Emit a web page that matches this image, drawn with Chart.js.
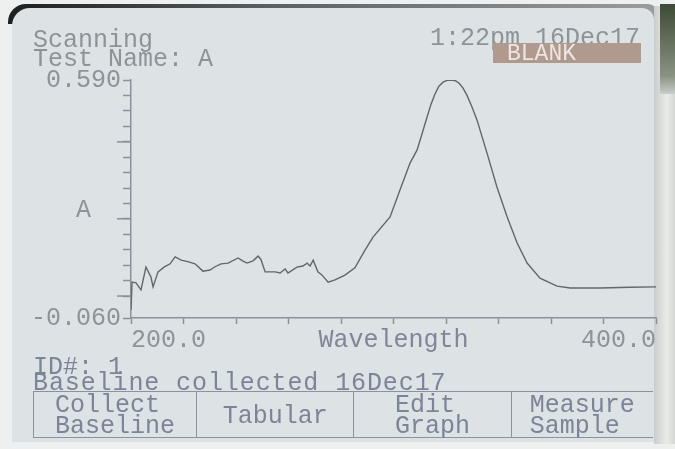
<!DOCTYPE html>
<html>
<head>
<meta charset="utf-8">
<script src="https://cdn.jsdelivr.net/npm/chart.js@4.4.0/dist/chart.umd.min.js"></script>
<style>
  body { margin: 0; width: 675px; height: 449px; overflow: hidden; position: relative; background: #eef0ef; font-family: "Liberation Mono", monospace; }
  #frame { position: absolute; left: 8px; top: 4px; width: 650px; height: 20px; background: linear-gradient(to right, #1e1f1f, #5d6060 40%, #9a9d9c); border-radius: 18px 10px 0 0; }
  #screen { position: absolute; left: 12px; top: 8px; width: 642px; height: 434px; background: #dde2e4; border-radius: 18px 12px 0 0; }
  #bezel { position: absolute; left: 654px; top: 6px; width: 21px; height: 438px; background: linear-gradient(to right, #c9cdcb, #e9ebe9 60%, #d3d6d3); }
  #bezelTop { position: absolute; left: 660px; top: 4px; width: 15px; height: 90px; background: linear-gradient(#3d4a35, #8a9382 80%, #c9cdcb); }
  canvas { position: absolute; left: 0; top: 0; }
  .lcd { position: absolute; font-size: 25px; line-height: 25px; white-space: pre; color: #8e9398; }
  .low { color: #7c8497; }
  #blank { position: absolute; left: 493px; top: 43px; width: 148px; height: 20px; background: #b09a8e; }
  #blank span { position: absolute; left: 14px; top: 0px; font-size: 23px; line-height: 22px; color: #ece5e0; }
  #buttons { position: absolute; left: 33px; top: 391px; width: 619px; height: 45px; border: 1.5px solid #8a92a0; border-right: none; display: flex; }
  #buttons div { display: flex; flex-direction: column; justify-content: center; align-items: center; border-left: 1.5px solid #8a92a0; font-size: 25px; line-height: 21px; padding-top: 3px; color: #7c8497; white-space: pre; }
  #buttons div:first-child { border-left: none; }
</style>
</head>
<body>
<div id="frame"></div>
<div id="screen"></div>
<div id="bezel"></div>
<div id="bezelTop"></div>
<canvas id="Chart" width="675" height="449"></canvas>
<div class="lcd" style="left:33px; top:28px;">Scanning</div>
<div class="lcd" style="left:33px; top:47px;">Test Name: A</div>
<div class="lcd" style="left:430px; top:26px;">1:22pm 16Dec17</div>
<div id="blank"><span>BLANK</span></div>
<div class="lcd" style="left:76px; top:198px;">A</div>
<div class="lcd low" style="left:33px; top:355px;">ID#: 1</div>
<div class="lcd low" style="left:33px; top:371px; letter-spacing:0.9px;">Baseline collected 16Dec17</div>
<div id="buttons">
  <div style="width:163px;">Collect
Baseline</div>
  <div style="width:157px;">Tabular</div>
  <div style="width:157px;">Edit
Graph</div>
  <div style="width:142px;">Measure
Sample</div>
</div>
<script>
// scan values
const wavelength = [200.0, 200.4, 201.9, 203.8, 205.7, 207.6, 208.4, 210.3, 212.6, 214.9,
    216.8, 219.1, 221.6, 224.4, 227.4, 230.1, 232.0, 234.3, 237.0, 240.8,
    242.5, 244.2, 246.5, 248.4, 249.5, 251.1, 254.9, 256.8, 258.7, 259.8,
    263.2, 265.5, 267.1, 268.2, 269.4, 271.2, 272.8, 275.1, 277.7, 281.5,
    285.3, 289.2, 292.2, 298.7, 302.5, 306.3, 309.0, 312.8, 314.3, 315.8,
    317.3, 318.9, 320.4, 322.3, 323.6, 325.0, 326.5, 328.0, 329.9, 331.8,
    335.6, 339.4, 343.3, 347.1, 350.9, 355.8, 362.3, 367.3, 378.7, 390.0,
    400.0]
const absorbance = [-0.038, 0.038, 0.036, 0.017, 0.079, 0.052, 0.025, 0.066, 0.079, 0.088,
    0.107, 0.098, 0.094, 0.088, 0.068, 0.071, 0.080, 0.088, 0.090, 0.104,
    0.096, 0.090, 0.096, 0.109, 0.100, 0.066, 0.066, 0.063, 0.074, 0.063,
    0.079, 0.082, 0.090, 0.082, 0.098, 0.066, 0.057, 0.038, 0.044, 0.057,
    0.077, 0.126, 0.161, 0.216, 0.290, 0.363, 0.399, 0.489, 0.524, 0.552,
    0.573, 0.584, 0.589, 0.590, 0.588, 0.581, 0.568, 0.548, 0.516, 0.481,
    0.391, 0.298, 0.216, 0.145, 0.090, 0.049, 0.027, 0.022, 0.022, 0.024,
    0.025]

const xTicks = [200, 220, 240, 260, 280, 300, 320, 340, 360, 380, 400]
const xLabels = [200, 400]
const yTicks = [-0.06, 0, 0.042, 0.084, 0.126, 0.169, 0.211, 0.253, 0.295, 0.337,
    0.379, 0.421, 0.464, 0.506, 0.548, 0.59]
const yLabels = [-0.06, 0.59]
const yMajor = [0, 0.211, 0.421]

const axisColor = "#8a919b"
const textColor = "#8e9398"
const lcdFont = { family: "Liberation Mono", size: 25 }

// longer tick marks on the absorbance axis
const majorTicks = {
    id: "majorTicks",
    afterDraw(chart) {
        const y = chart.scales.y
        const ctx = chart.ctx
        ctx.save()
        ctx.strokeStyle = axisColor
        ctx.lineWidth = 1.5
        yMajor.forEach(v => {
            const py = y.getPixelForValue(v)
            ctx.beginPath()
            ctx.moveTo(y.right - 14, py)
            ctx.lineTo(y.right, py)
            ctx.stroke()
        })
        ctx.restore()
    }
}

const ctx = document.getElementById("Chart")
const chart = new Chart(ctx, {
    type: "line",
    data: {
        datasets: [{
            label: "A",
            data: wavelength.map((w, i) => ({ x: w, y: absorbance[i] })),
            borderColor: "#63666b",
            borderWidth: 1.4,
            tension: 0,
            pointRadius: 0,
        }],
    },
    options: {
        responsive: false,
        animation: false,
        events: [],
        layout: { padding: { left: 33, right: 19, top: 80, bottom: 94 } },
        plugins: { legend: { display: false }, tooltip: { enabled: false } },
        scales: {
            x: {
                type: "linear",
                min: 200,
                max: 400,
                afterFit: s => { s.height = 37 },
                afterBuildTicks: s => { s.ticks = xTicks.map(v => ({ value: v })) },
                grid: { drawOnChartArea: false, tickLength: 6, tickColor: axisColor, tickWidth: 1.5 },
                border: { color: axisColor, width: 1.5 },
                ticks: {
                    autoSkip: false,
                    maxRotation: 0,
                    align: "inner",
                    padding: 1,
                    color: textColor,
                    font: lcdFont,
                    callback: v => xLabels.includes(v) ? v.toFixed(1) : "",
                },
                title: {
                    display: true,
                    text: "Wavelength",
                    color: "#7f8698",
                    font: lcdFont,
                    padding: 0,
                },
            },
            y: {
                type: "linear",
                min: -0.06,
                max: 0.59,
                afterFit: s => { s.width = 98 },
                afterBuildTicks: s => { s.ticks = yTicks.map(v => ({ value: v })) },
                grid: { drawOnChartArea: false, tickLength: 8, tickColor: axisColor, tickWidth: 1.5 },
                border: { color: axisColor, width: 1.5 },
                ticks: {
                    autoSkip: false,
                    padding: 2,
                    color: textColor,
                    font: lcdFont,
                    callback: v => yLabels.includes(v) ? v.toFixed(3) : "",
                },
            },
        },
    },
    plugins: [majorTicks],
})
</script>
</body>
</html>
